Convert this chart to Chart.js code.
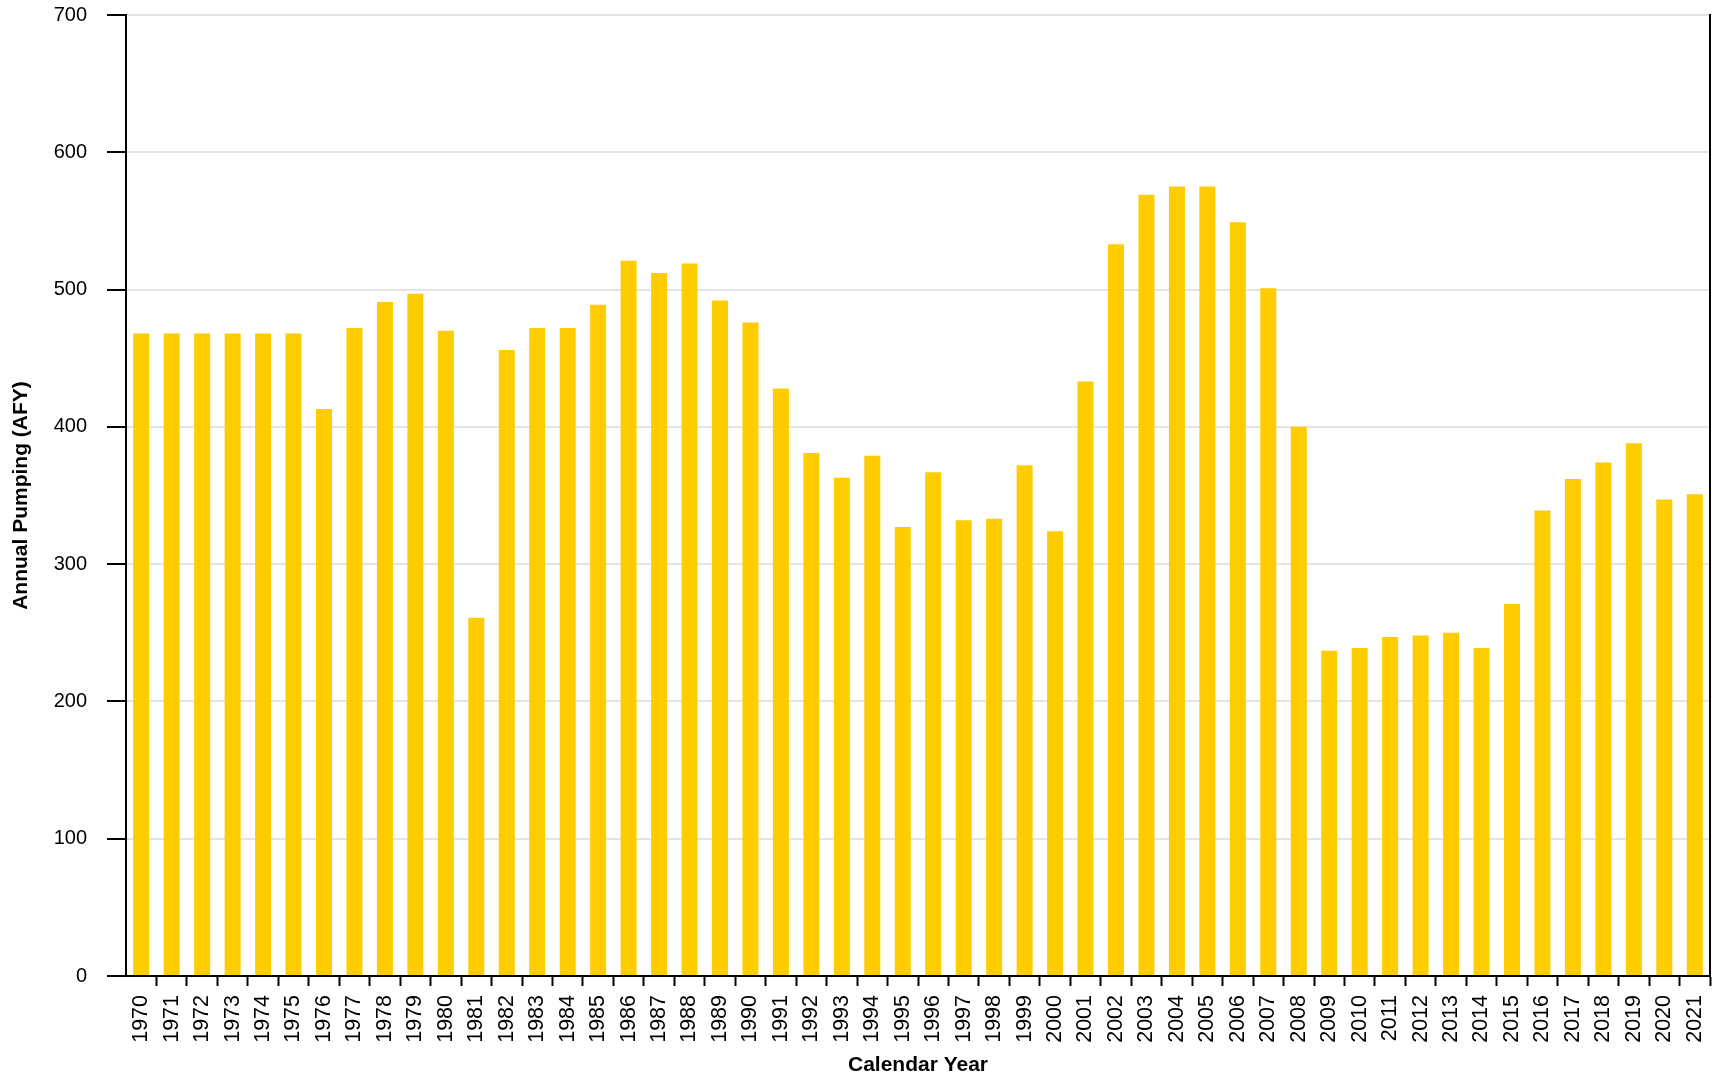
<!DOCTYPE html>
<html>
<head>
<meta charset="utf-8">
<script src="https://cdn.jsdelivr.net/npm/chart.js@4/dist/chart.umd.min.js"></script>
<style>
  html, body { margin: 0; padding: 0; background: #ffffff; }
  #wrap { width: 1712px; height: 1078px; position: relative; }
</style>
</head>
<body>
<div id="wrap"><canvas id="c"></canvas></div>
<script>
const years = [
  "1970","1971","1972","1973","1974","1975","1976","1977","1978","1979",
  "1980","1981","1982","1983","1984","1985","1986","1987","1988","1989",
  "1990","1991","1992","1993","1994","1995","1996","1997","1998","1999",
  "2000","2001","2002","2003","2004","2005","2006","2007","2008","2009",
  "2010","2011","2012","2013","2014","2015","2016","2017","2018","2019",
  "2020","2021"
];
const pumping = [
  468, 468, 468, 468, 468, 468, 413, 472, 491, 497,
  470, 261, 456, 472, 472, 489, 521, 512, 519, 492,
  476, 428, 381, 363, 379, 327, 367, 332, 333, 372,
  324, 433, 533, 569, 575, 575, 549, 501, 400, 237,
  239, 247, 248, 250, 239, 271, 339, 362, 374, 388,
  347, 351
];
const yTitle = "Annual Pumping (AFY)";
const xTitle = "Calendar Year";

const FONT = "'Liberation Sans', Arial, Helvetica, sans-serif";

new Chart(document.getElementById('c'), {
  type: 'bar',
  data: {
    labels: years,
    datasets: [{
      data: pumping,
      backgroundColor: '#FFCC00',
      borderWidth: 0,
      categoryPercentage: 1.0,
      barPercentage: 0.525
    }]
  },
  options: {
    responsive: true,
    maintainAspectRatio: false,
    animation: false,
    layout: { padding: { top: 0, right: 0, left: 0, bottom: 0 } },
    plugins: {
      legend: { display: false },
      tooltip: { enabled: false }
    },
    scales: {
      x: {
        offset: true,
        afterFit: (s) => { s.paddingLeft = 0; s.paddingRight = 0; s.height = 102; },
        grid: {
          display: true,
          offset: true,
          drawOnChartArea: false,
          drawTicks: true,
          tickLength: 10,
          tickColor: (ctx) => (ctx.index === 0 ? 'rgba(0,0,0,0)' : '#000000'),
          tickWidth: 2
        },
        border: { display: true, color: '#000000', width: 2 },
        ticks: {
          autoSkip: false,
          maxRotation: 90,
          minRotation: 90,
          padding: 9,
          color: '#000000',
          font: { family: FONT, size: 21.5 }
        },
        title: {
          display: true,
          text: xTitle,
          color: '#000000',
          font: { family: FONT, size: 21, weight: 'bold' },
          padding: { top: 6, bottom: 0 }
        }
      },
      y: {
        min: 0,
        max: 700,
        afterFit: (s) => { s.paddingTop = 15; s.paddingBottom = 12; s.width = 126; },
        ticks: {
          stepSize: 100,
          padding: 20,
          color: '#000000',
          font: { family: FONT, size: 20 }
        },
        grid: {
          color: '#e4e4e4',
          lineWidth: 2,
          drawTicks: true,
          tickLength: 19,
          tickColor: '#000000',
          tickWidth: 2
        },
        border: { display: true, color: '#000000', width: 2 },
        title: {
          display: true,
          text: yTitle,
          color: '#000000',
          font: { family: FONT, size: 21, weight: 'bold' },
          padding: { top: 9, bottom: 0 }
        }
      },
      y2: {
        position: 'right',
        min: 0,
        max: 700,
        afterFit: (s) => { s.paddingTop = 15; s.paddingBottom = 12; s.width = 2; },
        ticks: { display: false },
        grid: { drawOnChartArea: false, drawTicks: false },
        border: { display: true, color: '#000000', width: 2 }
      }
    }
  }
});
</script>
</body>
</html>
